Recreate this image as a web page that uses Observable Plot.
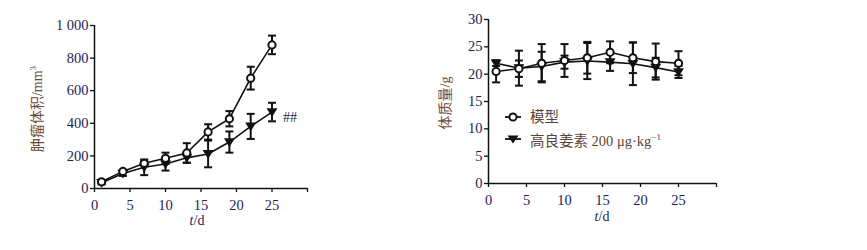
<!DOCTYPE html>
<html>
<head>
<meta charset="utf-8">
<script src="https://cdn.jsdelivr.net/npm/d3@7"></script>
<script src="https://cdn.jsdelivr.net/npm/@observablehq/plot@0.6"></script>
<style>
  html, body { margin: 0; padding: 0; background: #fff; }
  #wrap { position: relative; width: 867px; height: 250px; overflow: hidden; font-family: "Liberation Serif", "Noto Sans CJK SC", serif; }
  .panel { position: absolute; top: 0; }
  .lbl { position: absolute; font-size: 14px; white-space: nowrap; transform: translate(-50%, -50%); line-height: 1; }
  .ylbl { transform: translate(-50%, -50%) rotate(-90deg); color: #6b4a3a; }
  .xlbl { color: #1b2450; }
  .legend { position: absolute; left: 502px; top: 106px; font-size: 14.5px; color: #5a4538; line-height: 22px; }
  .legend div { display: flex; align-items: center; height: 22px; }
  .legend svg { margin-right: 6px; }
  sup { font-size: 9px; vertical-align: 6px; }
</style>
</head>
<body>
<div id="wrap">
  <div id="left" class="panel" style="left:0px"></div>
  <div id="right" class="panel" style="left:430px"></div>
  <div class="lbl ylbl" style="left:37px; top:109px">肿瘤体积/mm<sup>3</sup></div>
  <div class="lbl xlbl" style="left:197px; top:221px"><i>t</i>/d</div>
  <div class="lbl ylbl" style="left:446px; top:103px">体质量/g</div>
  <div class="lbl xlbl" style="left:602px; top:217px"><i>t</i>/d</div>
  <div class="legend" id="legend"></div>
</div>
<script>
// ---- data ----
const days = [1, 4, 7, 10, 13, 16, 19, 22, 25];
const groups = ["模型", "高良姜素 200 μg·kg"];

const volModel     = [41, 105, 155, 185, 218, 347, 428, 677, 881];
const volModelErr  = [10, 10, 15, 35, 60, 47, 47, 70, 57];
const volTreat     = [35, 92, 130, 150, 188, 212, 285, 381, 469];
const volTreatErr  = [10, 15, 48, 40, 30, 82, 65, 77, 57];

const wtModel      = [20.5, 21.0, 22.0, 22.5, 23.0, 24.0, 23.0, 22.3, 22.0];
const wtModelErr   = [2.0, 1.5, 3.5, 3.0, 2.9, 2.0, 2.8, 3.3, 2.2];
const wtTreat      = [22.0, 21.1, 21.4, 22.2, 22.4, 22.2, 21.9, 21.2, 20.4];
const wtTreatErr   = [0.5, 3.2, 2.7, 1.2, 3.3, 1.6, 3.9, 1.8, 1.1];

const xTicks = [0, 5, 10, 15, 20, 25, 30];
const xTickLabels = ["0", "5", "10", "15", "20", "25", ""];
const yTicksVol = [0, 200, 400, 600, 800, 1000];
const yTickLabelsVol = ["0", "200", "400", "600", "800", "1 000"];
const yTicksWt = [0, 5, 10, 15, 20, 25, 30];
const yTickLabelsWt = ["0", "5", "10", "15", "20", "25", "30"];
const annotation = "##";

// ---- helpers ----
function rows(vals, errs, g) {
  return days.map((t, i) => ({ t, v: vals[i], e: errs[i], g }));
}
const capSymbol = { draw(ctx, size) { const r = Math.sqrt(size / Math.PI); ctx.moveTo(-r, 0); ctx.lineTo(r, 0); } };
const triDown = { draw(ctx, size) { const r = Math.sqrt(size / Math.PI); ctx.moveTo(-r, -r * 0.7); ctx.lineTo(r, -r * 0.7); ctx.lineTo(0, r * 0.9); ctx.closePath(); } };
const ink = "#111";
const textColor = "#1b2450";

function panel(model, treat, opts) {
  const all = model.concat(treat);
  const marks = [
    Plot.ruleX(all, { x: "t", y1: d => d.v - d.e, y2: d => d.v + d.e, stroke: ink, strokeWidth: 2 }),
    Plot.dot(all, { x: "t", y: d => d.v + d.e, symbol: capSymbol, r: 4, fill: "none", stroke: ink, strokeWidth: 2 }),
    Plot.dot(all, { x: "t", y: d => d.v - d.e, symbol: capSymbol, r: 4, fill: "none", stroke: ink, strokeWidth: 2 }),
    Plot.line(all, { x: "t", y: "v", z: "g", stroke: ink, strokeWidth: 1.6 }),
    Plot.dot(treat, { x: "t", y: "v", symbol: triDown, r: 5.5, fill: ink, stroke: "none" }),
    Plot.dot(model, { x: "t", y: "v", r: 3.6, fill: "white", stroke: ink, strokeWidth: 2 }),
    Plot.ruleY([opts.yDomain[0]], { stroke: ink, strokeWidth: 1.5 }),
    Plot.ruleX([0], { stroke: ink, strokeWidth: 1.5 }),
    Plot.axisX({ ticks: xTicks, tickFormat: (d) => xTickLabels[xTicks.indexOf(d)], tickSize: 4, tickPadding: 7, stroke: ink, strokeWidth: 1.3, fill: textColor, label: null }),
    Plot.axisY({ ticks: opts.yTicks, tickFormat: d => opts.yLabels[opts.yTicks.indexOf(d)], tickSize: 4, tickPadding: 2, stroke: ink, strokeWidth: 1.3, fill: textColor, label: null })
  ];
  if (opts.extra) marks.push(...opts.extra);
  return Plot.plot({
    width: 330, height: 240,
    marginLeft: opts.ml, marginRight: opts.mr, marginTop: opts.mt, marginBottom: opts.mb,
    x: { domain: [0, 30] },
    y: { domain: opts.yDomain },
    style: { fontFamily: "'Liberation Serif', serif", fontSize: "14.5px", background: "white", overflow: "visible" },
    marks
  });
}

const volM = rows(volModel, volModelErr, groups[0]);
const volT = rows(volTreat, volTreatErr, groups[1]);
const wtM = rows(wtModel, wtModelErr, groups[0]);
const wtT = rows(wtTreat, wtTreatErr, groups[1]);

document.getElementById("left").append(panel(volM, volT, {
  yDomain: [0, 1000], yTicks: yTicksVol, yLabels: yTickLabelsVol,
  ml: 94, mr: 23, mt: 25, mb: 52,
  extra: [Plot.text([volT[volT.length - 1]], { x: "t", y: "v", text: () => annotation, dx: 11, dy: 5, textAnchor: "start", fill: textColor, fontSize: 14 })]
}));
document.getElementById("right").append(panel(wtM, wtT, {
  yDomain: [0, 30], yTicks: yTicksWt, yLabels: yTickLabelsWt,
  ml: 58, mr: 44, mt: 19, mb: 57
}));

// legend
const lg = document.getElementById("legend");
const mk = (kind) => {
  const marker = kind === 0
    ? `<circle cx="11" cy="6" r="3.6" fill="white" stroke="${ink}" stroke-width="2"/>`
    : `<path d="M5.5,2.5 L16.5,2.5 L11,10.5 Z" fill="${ink}"/>`;
  return `<svg width="22" height="12"><line x1="3" x2="19" y1="6" y2="6" stroke="${ink}" stroke-width="1.8"/>${marker}</svg>`;
};
lg.innerHTML = `<div>${mk(0)}<span>${groups[0]}</span></div><div>${mk(1)}<span>${groups[1]}<sup>−1</sup></span></div>`;
</script>
</body>
</html>
